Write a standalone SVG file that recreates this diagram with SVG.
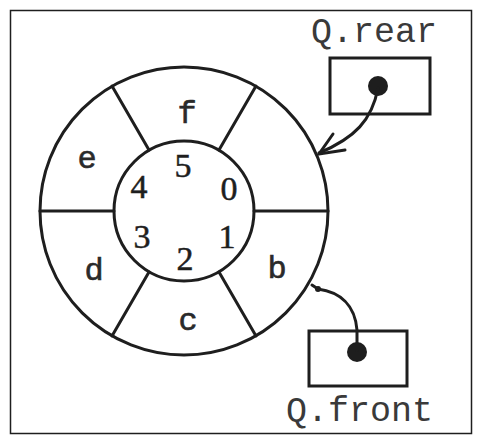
<svg xmlns="http://www.w3.org/2000/svg" width="481" height="444" viewBox="0 0 481 444">
<style>
.ln{fill:none;stroke:#1e1e1e;stroke-width:3;stroke-linecap:round}
.lbl{font-family:"Liberation Mono","DejaVu Sans Mono",monospace;font-size:32px;fill:#2a2a2a;text-anchor:middle;stroke:#2a2a2a;stroke-width:0.6}
.num{font-family:"Liberation Serif","DejaVu Serif",serif;font-size:34px;fill:#1e1e1e;text-anchor:middle;stroke:#1e1e1e;stroke-width:0.5}
.ttl{font-family:"Liberation Mono","DejaVu Sans Mono",monospace;font-size:35px;fill:#3a3a3a}
.box{fill:#fff;stroke:#1e1e1e;stroke-width:3}
</style>
<rect x="0" y="0" width="481" height="444" fill="#fff"/>
<rect x="10.5" y="10.5" width="461" height="423" fill="none" stroke="#1e1e1e" stroke-width="1.5"/>
<g id="ring">
<circle class="ln" cx="184" cy="211" r="144"/>
<circle class="ln" cx="184" cy="211" r="70"/>
<line class="ln" x1="254" y1="211" x2="328" y2="211"/>
<line class="ln" x1="219" y1="150" x2="256" y2="86"/>
<line class="ln" x1="149" y1="150" x2="112" y2="86"/>
<line class="ln" x1="114" y1="211" x2="40" y2="211"/>
<line class="ln" x1="149" y1="272" x2="112" y2="336"/>
<line class="ln" x1="219" y1="272" x2="256" y2="336"/>
</g>
<g id="cells">
<text class="lbl" x="187" y="123">f</text>
<text class="lbl" x="87" y="168">e</text>
<text class="lbl" x="94" y="280">d</text>
<text class="lbl" x="188" y="330">c</text>
<text class="lbl" x="277" y="278">b</text>
</g>
<g id="indices">
<text class="num" x="183" y="177">5</text>
<text class="num" x="139" y="198">4</text>
<text class="num" x="229" y="200">0</text>
<text class="num" x="142" y="248">3</text>
<text class="num" x="185" y="270">2</text>
<text class="num" x="227" y="248">1</text>
</g>
<g id="rear">
<text class="ttl" x="311" y="42">Q.rear</text>
<rect class="box" x="330" y="58" width="100" height="56"/>
<circle cx="378" cy="86" r="10" fill="#1e1e1e"/>
</g>
<g id="front">
<text class="ttl" x="286" y="421">Q.front</text>
<rect class="box" x="309" y="331" width="98" height="55"/>
<circle cx="357" cy="352" r="10" fill="#1e1e1e"/>
</g>
<g id="connectors">
<path class="ln" d="M378 88 C372 120 355 138 319 153"/>
<polyline class="ln" points="333,134 319,154 345,150"/>
<path class="ln" d="M357 350 L357 330 C355 305 340 292 318 289 L312 285"/>
<circle cx="318" cy="289" r="3" fill="#1e1e1e"/>
</g>
</svg>
